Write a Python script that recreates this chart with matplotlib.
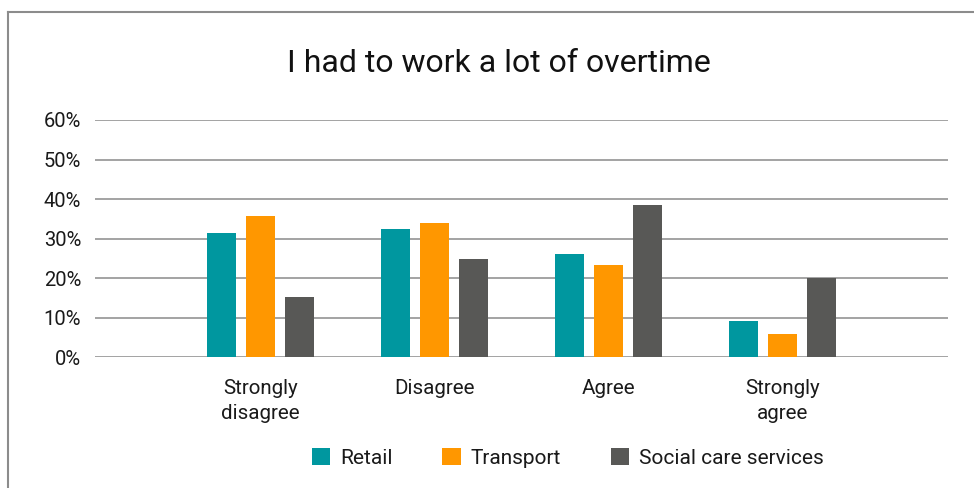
import numpy as np
import matplotlib.pyplot as plt
from matplotlib.patches import Patch
from matplotlib.lines import Line2D
from matplotlib.ticker import PercentFormatter

plt.rcParams['font.family'] = ['Roboto', 'DejaVu Sans']

categories = ['Strongly\ndisagree', 'Disagree', 'Agree', 'Strongly\nagree']
series = ['Retail', 'Transport', 'Social care services']
retail = [31.5, 32.3, 26.2, 9.0]
transport = [35.6, 33.8, 23.4, 5.9]
social_care = [15.3, 24.9, 38.4, 20.1]
colors = ['#00979f', '#ff9700', '#585856']

values = [retail, transport, social_care]

fig = plt.figure(figsize=(9.74, 4.88), dpi=100)
ax = fig.add_axes([0.0975, 0.2684, 0.8758, 0.4857])

x = np.arange(len(categories))
width = 0.167
step = 0.224
for i, (vals, col) in enumerate(zip(values, colors)):
    ax.bar(x + (i - 1) * step, np.array(vals) / 100, width, color=col, zorder=3)

ax.set_xlim(-0.95, 3.95)
ax.set_ylim(0, 0.6)
ax.set_yticks(np.arange(0, 0.61, 0.1))
ax.yaxis.set_major_formatter(PercentFormatter(1.0, decimals=0))
ax.grid(axis='y', color='#8a8a8a', lw=1.1, zorder=0)
ax.set_axisbelow(True)
for s in ax.spines.values():
    s.set_visible(False)
ax.tick_params(axis='y', length=0, pad=10, labelsize=14.5, labelcolor='#1a1a1a')
ax.set_xticks(x)
ax.set_xticklabels(categories, fontsize=14.8, color='#1a1a1a', linespacing=1.38)
ax.tick_params(axis='x', length=0, pad=16)

fig.text(0.512, 0.869, 'I had to work a lot of overtime', ha='center', va='center',
         fontsize=23, color='#111111')

handles = [Patch(facecolor=c, edgecolor='none') for c in colors]
fig.legend(handles, series, loc='center', bbox_to_anchor=(0.583, 0.061), ncol=3,
           frameon=False, fontsize=15, handlelength=0.87, handleheight=0.87,
           handletextpad=0.48, columnspacing=2.4, labelcolor='#1a1a1a')

# outer frame along the left and top edges
fig.add_artist(Line2D([0.0085, 0.0085], [0.0, 0.975], color='#8c8c8c', lw=1.5,
                      transform=fig.transFigure))
fig.add_artist(Line2D([0.0085, 1.0], [0.975, 0.975], color='#8c8c8c', lw=1.5,
                      transform=fig.transFigure))

fig.savefig('out.png', dpi=100)
